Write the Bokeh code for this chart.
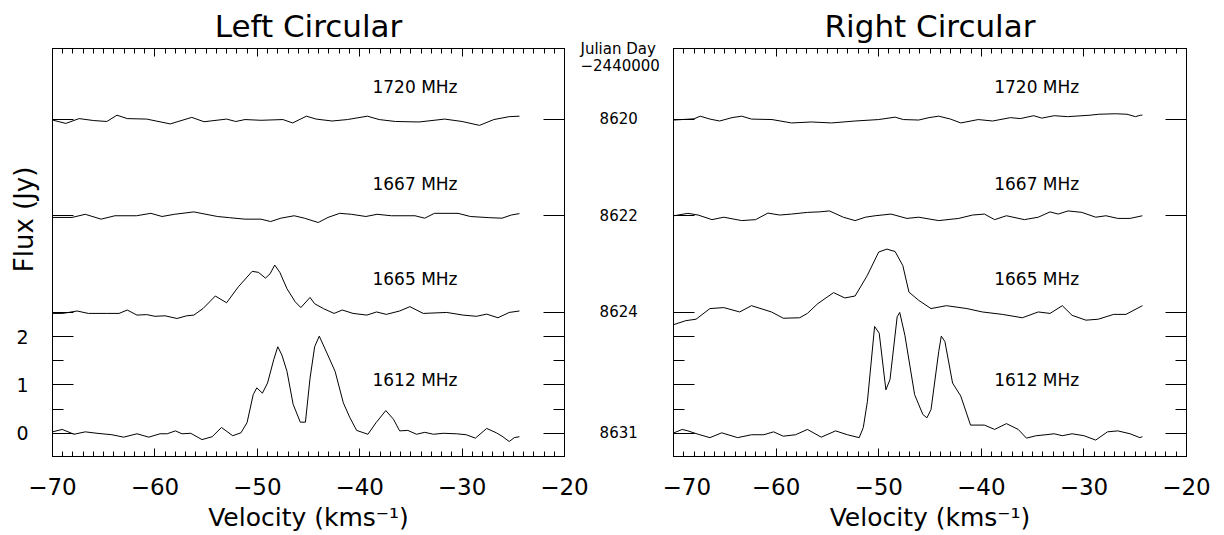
from bokeh.plotting import figure
from bokeh.models import LinearAxis, FixedTicker, Range1d, Title
from bokeh.layouts import row
from bokeh.embed import file_html
from bokeh.resources import INLINE
from bokeh.core.properties import value

# ---------------- data ----------------
FREQ_LABELS = ["1612 MHz", "1665 MHz", "1667 MHz", "1720 MHz"]
BASELINES = [0.0, 2.5, 4.5, 6.5]            # vertical offsets of the spectra (Jy)
JULIAN_DAYS = ["8631", "8624", "8622", "8620"]
JULIAN_HEADER = ["\u22122440000", "Julian Day"]
X_TICKS = [-70, -60, -50, -40, -30, -20]
X_TICK_LABELS = ["\u221270", "\u221260", "\u221250", "\u221240", "\u221230", "\u221220"]
Y_TICKS = [0, 1, 2]
Y_TICK_LABELS = ["0", "1", "2"]
Y_MINOR = [0.5, 1.5]

# Left circular
LCP_1612_V = [-70.0, -69.05, -67.9, -66.8, -65.65, -64.2, -63.05, -61.75, -60.6, -59.5, -58.8, -58.0,
              -57.35, -56.5, -55.4, -54.4, -53.5, -52.4, -51.6, -51.0, -50.4, -50.05, -49.5, -49.0,
              -48.4, -48.0, -47.6, -47.1, -46.5, -45.8, -45.3, -44.85, -44.4, -43.95, -43.2, -42.4,
              -41.6, -40.95, -40.3, -39.2, -38.4, -37.45, -36.7, -36.1, -35.3, -34.45, -33.65, -32.8,
              -31.85, -30.55, -29.6, -28.7, -27.6, -26.65, -26.1, -25.4, -24.9, -24.4]
LCP_1612_F = [0.03, 0.08, -0.02, 0.03, 0.0, -0.03, -0.08, -0.01, -0.08, -0.01, -0.01, 0.05,
              -0.01, 0.0, -0.13, -0.07, 0.12, -0.05, 0.01, 0.22, 0.80, 0.94, 0.83, 1.04,
              1.52, 1.79, 1.62, 1.28, 0.60, 0.23, 0.23, 1.14, 1.79, 2.01, 1.66, 1.28,
              0.63, 0.32, 0.06, -0.02, 0.22, 0.47, 0.29, 0.05, 0.06, -0.02, 0.02, -0.02,
              0.0, -0.01, -0.03, -0.10, 0.10, 0.01, -0.06, -0.17, -0.09, -0.07]

LCP_1665_V = [-70.0, -69.0, -67.6, -66.5, -64.7, -63.5, -62.7, -61.75, -60.8, -60.0, -59.0, -57.85,
              -56.9, -56.2, -55.3, -54.1, -53.0, -51.85, -50.5, -49.9, -49.2, -48.75, -48.3, -47.8,
              -47.1, -46.3, -45.75, -44.85, -44.4, -43.55, -42.5, -41.7, -40.65, -39.3, -38.35, -37.4,
              -36.1, -35.1, -33.8, -31.5, -29.9, -28.6, -27.6, -26.5, -25.4, -24.4]
LCP_1665_F = [-0.02, -0.02, 0.03, -0.02, -0.02, -0.02, 0.05, -0.055, -0.045, -0.08, -0.07, -0.125,
              -0.07, -0.055, 0.08, 0.34, 0.20, 0.53, 0.85, 0.83, 0.71, 0.80, 0.98, 0.83,
              0.49, 0.22, 0.10, 0.31, 0.18, 0.08, -0.02, 0.05, -0.02, -0.055, 0.01, -0.04,
              0.03, 0.12, -0.02, 0.0, -0.055, -0.08, -0.035, -0.11, 0.0, 0.03]

LCP_1667_V = [-70.0, -68.1, -66.8, -65.25, -63.9, -61.8, -60.4, -59.3, -58.1, -56.2, -53.9, -52.7,
              -51.2, -49.65, -48.7, -47.7, -46.4, -45.4, -44.05, -43.1, -41.95, -40.8, -39.4, -38.3,
              -36.9, -34.6, -33.65, -32.7, -30.4, -29.2, -27.3, -26.1, -25.2, -24.4]
LCP_1667_F = [-0.035, -0.035, 0.03, -0.07, 0.0, 0.0, 0.05, -0.015, 0.03, 0.08, -0.015, -0.04,
              -0.07, -0.07, -0.12, -0.05, 0.0, -0.05, -0.14, -0.035, 0.05, 0.03, -0.015, 0.03,
              0.0, 0.0, -0.05, 0.05, 0.05, -0.015, -0.04, -0.05, 0.015, 0.045]

LCP_1720_V = [-70.0, -68.7, -67.4, -66.0, -64.7, -63.7, -62.7, -60.8, -58.5, -56.4, -55.2, -53.0,
              -52.1, -51.2, -49.65, -47.5, -46.55, -45.2, -44.25, -42.7, -41.2, -39.25, -38.1, -36.5,
              -34.2, -31.7, -30.0, -28.3, -26.9, -25.4, -24.4]
LCP_1720_F = [-0.02, -0.09, 0.01, -0.03, -0.05, 0.08, 0.01, 0.0, -0.10, 0.035, -0.055, 0.0,
              -0.05, -0.01, -0.025, -0.01, -0.08, 0.06, 0.0, -0.04, -0.01, 0.06, -0.01, -0.05,
              -0.06, 0.0, -0.05, -0.13, -0.01, 0.05, 0.06]

# Right circular
RCP_1612_V = [-69.95, -69.15, -68.6, -67.6, -66.45, -65.3, -63.75, -62.4, -61.2, -60.25, -59.3, -58.1,
              -56.95, -55.6, -54.2, -53.05, -51.9, -51.5, -51.1, -50.4, -49.95, -49.3, -48.9, -48.2,
              -47.95, -47.45, -46.5, -45.7, -45.3, -44.9, -44.15, -43.9, -43.55, -42.8, -42.0, -41.05,
              -39.7, -38.7, -37.55, -36.4, -35.6, -34.65, -33.7, -32.9, -32.1, -31.15, -30.0, -28.85,
              -27.7, -26.7, -25.5, -24.55, -24.3]
RCP_1612_F = [0.01, 0.08, 0.05, -0.02, -0.09, 0.01, -0.09, -0.03, -0.03, 0.03, -0.06, -0.03,
              0.08, -0.08, 0.05, -0.03, -0.09, 0.12, 0.66, 2.21, 2.07, 0.90, 1.11, 2.41,
              2.50, 2.03, 0.80, 0.39, 0.32, 0.49, 1.69, 2.01, 1.90, 1.04, 0.77, 0.17,
              0.17, 0.08, 0.20, 0.08, -0.10, -0.05, -0.03, -0.01, -0.05, -0.01, -0.05, -0.14,
              0.03, 0.05, -0.01, -0.09, -0.07]

RCP_1665_V = [-69.95, -68.8, -67.8, -66.45, -65.1, -63.55, -62.4, -60.45, -59.3, -57.7, -56.95, -55.95,
              -54.4, -53.3, -52.3, -51.1, -50.0, -49.2, -48.4, -47.65, -47.05, -46.1, -44.9, -43.4,
              -41.4, -39.9, -37.95, -36.0, -34.45, -33.3, -32.1, -31.15, -29.8, -28.6, -27.1, -25.9,
              -24.3]
RCP_1665_F = [-0.25, -0.17, -0.14, 0.08, 0.10, 0.01, 0.14, 0.01, -0.12, -0.11, -0.02, 0.18,
              0.41, 0.30, 0.34, 0.77, 1.25, 1.31, 1.26, 0.97, 0.42, 0.25, 0.08, 0.14,
              0.08, 0.01, -0.04, -0.11, 0.01, -0.02, 0.14, -0.06, -0.16, -0.14, -0.04, -0.04,
              0.14]

RCP_1667_V = [-69.95, -68.6, -67.6, -66.25, -65.1, -63.35, -62.0, -60.8, -59.65, -58.5, -56.95, -55.8,
              -54.8, -53.45, -52.3, -51.3, -50.35, -48.8, -47.25, -46.1, -44.15, -42.2, -40.85, -39.7,
              -38.7, -37.55, -35.8, -34.45, -33.3, -32.5, -31.55, -30.2, -28.85, -27.85, -26.7, -25.5,
              -24.3]
RCP_1667_F = [0.0, 0.05, 0.015, -0.08, -0.03, -0.10, -0.08, 0.055, 0.015, 0.035, 0.07, 0.08,
              0.10, -0.03, -0.10, -0.03, 0.0, 0.035, -0.055, -0.03, -0.10, -0.055, 0.015, 0.035,
              -0.08, 0.0, -0.08, -0.03, 0.08, 0.035, 0.10, 0.07, -0.03, 0.0, -0.055, -0.055,
              0.0]

RCP_1720_V = [-69.95, -68.0, -67.4, -66.45, -65.5, -64.3, -63.35, -62.4, -60.4, -58.5, -56.55, -54.6,
              -52.3, -50.0, -48.4, -47.6, -46.1, -45.1, -44.15, -43.0, -42.0, -40.3, -38.9, -37.15,
              -36.2, -34.9, -34.1, -32.9, -31.6, -29.4, -28.55, -26.9, -25.8, -24.97, -24.5, -24.3]
RCP_1720_F = [-0.02, 0.005, 0.06, 0.0, -0.04, 0.03, 0.06, 0.0, -0.01, -0.08, -0.06, -0.08,
              -0.04, -0.01, 0.04, -0.01, -0.02, 0.03, 0.06, 0.0, -0.08, -0.01, -0.04, 0.03,
              0.01, 0.07, 0.02, 0.07, 0.05, 0.08, 0.10, 0.11, 0.10, 0.05, 0.08, 0.08]

LCP = [(LCP_1612_V, LCP_1612_F), (LCP_1665_V, LCP_1665_F), (LCP_1667_V, LCP_1667_F), (LCP_1720_V, LCP_1720_F)]
RCP = [(RCP_1612_V, RCP_1612_F), (RCP_1665_V, RCP_1665_F), (RCP_1667_V, RCP_1667_F), (RCP_1720_V, RCP_1720_F)]

# ---------------- layout / style ----------------
FONT = "DejaVu Sans"
X_RANGE = (-70, -20)
Y_RANGE = (-0.48, 7.96)
HEADER_Y = [7.59, 7.955]          # positions of the "Julian Day" header lines
LABEL_X = -34.6
LABEL_DY = [1.10, 0.70, 0.66, 0.66]
HEIGHT = 535
FIG_SPLIT = 662
PAD = "\u2007\u2007"              # figure spaces to centre the day numbers under the header
NBSP = "\u00a0" * 8               # shifts the rotated y label upward


def base_style(ax):
    ax.axis_line_color = "black"
    ax.major_tick_line_color = "black"
    ax.minor_tick_line_color = "black"
    ax.major_tick_out = 0
    ax.minor_tick_out = 0
    ax.major_label_text_font = FONT
    ax.major_label_text_color = "black"
    ax.axis_label_text_font = FONT
    ax.axis_label_text_font_style = "normal"
    ax.axis_label_text_color = "black"


def tick_axis(positions, length):
    """An axis that only draws inward tick marks (no labels, zero size)."""
    ax = LinearAxis(ticker=FixedTicker(ticks=[], minor_ticks=list(positions)))
    base_style(ax)
    ax.minor_tick_in = length
    ax.major_tick_in = 0
    ax.major_label_standoff = 0
    ax.axis_label_standoff = 0
    return ax


def make_panel(title, spectra, width, border_left, border_right, is_left):
    p = figure(width=width, height=HEIGHT, x_range=Range1d(*X_RANGE), y_range=Range1d(*Y_RANGE),
               output_backend="svg", toolbar_location=None, y_axis_location=None,
               min_border_left=border_left, min_border_right=border_right,
               min_border_top=45, min_border_bottom=79)
    p.xgrid.visible = False
    p.ygrid.visible = False
    p.outline_line_color = None
    p.background_fill_color = "white"
    p.border_fill_color = "white"

    p.title = Title(text=title, align="center", text_font=FONT, text_font_style="normal",
                    text_font_size="31px", text_color="black", standoff=10)

    # bottom axis with labels
    xb = p.xaxis[0]
    xb.ticker = FixedTicker(ticks=X_TICKS, minor_ticks=list(range(-70, -19)))
    base_style(xb)
    xb.major_tick_in = 8
    xb.minor_tick_in = 5
    xb.major_label_overrides = {t: s for t, s in zip(X_TICKS, X_TICK_LABELS)}
    xb.major_label_text_font_size = "23px"
    xb.major_label_standoff = 21
    xb.axis_label = "Velocity (kms\u207b\u00b9)"
    xb.axis_label_text_font_size = "25px"
    xb.axis_label_standoff = 5

    # top axis: tick marks only
    p.add_layout(tick_axis(range(-70, -19), 5), "above")
    p.add_layout(tick_axis(X_TICKS, 8), "above")

    # right side tick marks (both panels)
    p.add_layout(tick_axis(Y_TICKS + BASELINES[1:], 21), "right")
    p.add_layout(tick_axis(Y_MINOR, 11), "right")

    # left side tick marks at the spectrum baselines
    p.add_layout(tick_axis(BASELINES[1:], 21), "left")

    if is_left:
        yl = LinearAxis(ticker=FixedTicker(ticks=Y_TICKS, minor_ticks=Y_MINOR))
        base_style(yl)
        yl.major_tick_in = 21
        yl.minor_tick_in = 11
        yl.major_label_overrides = {t: s for t, s in zip(Y_TICKS, Y_TICK_LABELS)}
        yl.major_label_text_font_size = "19px"
        yl.major_label_standoff = 24
        yl.axis_label = NBSP + "Flux (Jy)"
        yl.axis_label_text_font_size = "26px"
        yl.axis_label_standoff = -26
        p.add_layout(yl, "left")

        # day numbers and header between the panels
        jd_ticks = BASELINES + HEADER_Y
        jd_text = [PAD + d for d in JULIAN_DAYS] + JULIAN_HEADER
        yr = LinearAxis(ticker=FixedTicker(ticks=jd_ticks, minor_ticks=[]))
        base_style(yr)
        yr.axis_line_color = None
        yr.major_tick_line_color = None
        yr.minor_tick_line_color = None
        yr.major_label_overrides = {t: s for t, s in zip(jd_ticks, jd_text)}
        yr.major_label_text_font_size = "15px"
        yr.major_label_standoff = 16
        p.add_layout(yr, "right")
    else:
        p.add_layout(tick_axis(Y_TICKS, 21), "left")
        p.add_layout(tick_axis(Y_MINOR, 11), "left")

    for (v, f), base in zip(spectra, BASELINES):
        p.line(v, [x + base for x in f], line_color="black", line_width=1)

    p.text(x=[LABEL_X] * 4, y=[b + d for b, d in zip(BASELINES, LABEL_DY)], text=FREQ_LABELS,
           text_align="center", text_baseline="middle", text_font=value(FONT),
           text_font_size="17px", text_color="black")
    return p


p1 = make_panel("Left Circular", LCP, FIG_SPLIT, 52, FIG_SPLIT - 52 - 513, True)
p2 = make_panel("Right Circular", RCP, 1224 - FIG_SPLIT, 673 - FIG_SPLIT, 1224 - 1186, False)

layout = row(p1, p2)
open("out.html", "w").write(file_html(layout, INLINE))
